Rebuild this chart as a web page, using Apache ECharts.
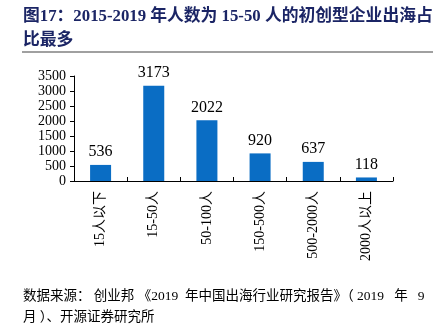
<!DOCTYPE html>
<html><head><meta charset="utf-8">
<script src="https://cdn.jsdelivr.net/npm/echarts@6/dist/echarts.min.js"></script>
<style>html,body{margin:0;padding:0;background:#fff}#c{width:442px;height:328px}</style>
</head><body><div id="c"></div>
<script>
const categories = ['15人以下','15-50人','50-100人','150-500人','500-2000人','2000人以上'];
const values = [536, 3173, 2022, 920, 637, 118];
const yTicks = [0, 500, 1000, 1500, 2000, 2500, 3000, 3500];
const titleLines = ['图17：2015-2019 年人数为 15-50 人的初创型企业出海占', '比最多'];
const sourceLines = ['数据来源： 创业邦 《2019  年中国出海行业研究报告》（ 2019   年   9', '月 ）、开源证券研究所'];

const serif = '"Liberation Serif","Noto Sans CJK SC",serif';
const chart = echarts.init(document.getElementById('c'), null, {renderer: 'canvas'});
chart.setOption({
  animation: false,
  backgroundColor: '#fff',
  grid: {left: 74, top: 76, width: 319, height: 105, containLabel: false},
  xAxis: {
    type: 'category', data: categories,
    axisLine: {lineStyle: {color: '#000', width: 1}},
    axisTick: {show: true, inside: true, length: 4, alignWithLabel: false, lineStyle: {color: '#000'}},
    axisLabel: {rotate: 90, interval: 0, margin: 10, color: '#000', fontSize: 14, fontFamily: serif}
  },
  yAxis: {
    type: 'value', min: yTicks[0], max: yTicks[yTicks.length - 1], interval: 500,
    splitLine: {show: false},
    axisLine: {show: true, lineStyle: {color: '#000', width: 1}},
    axisTick: {show: true, length: 4, lineStyle: {color: '#000'}},
    axisLabel: {color: '#000', fontSize: 14, fontFamily: serif, margin: 8, formatter: v => String(v)}
  },
  series: [{
    type: 'bar', data: values, barWidth: 21,
    itemStyle: {color: '#0A6DC4'},
    label: {show: true, position: 'top', distance: 5, color: '#000', fontSize: 16, fontFamily: serif}
  }],
  graphic: [
    {type: 'text', left: 23, top: 8, style: {text: titleLines[0], font: 'bold 16.8px "Liberation Serif","Noto Sans CJK SC",serif', fill: '#1B2565'}},
    {type: 'text', left: 23, top: 32, style: {text: titleLines[1], font: 'bold 16.8px "Liberation Serif","Noto Sans CJK SC",serif', fill: '#1B2565'}},
    {type: 'line', shape: {x1: 22, y1: 52, x2: 433, y2: 52}, style: {stroke: '#808080', lineWidth: 1.5}},
    {type: 'text', left: 23, top: 290, style: {text: sourceLines[0], font: '13.5px "Liberation Serif","Noto Sans CJK SC",serif', fill: '#000'}},
    {type: 'text', left: 23, top: 311, style: {text: sourceLines[1], font: '13.5px "Liberation Serif","Noto Sans CJK SC",serif', fill: '#000'}}
  ]
});
</script></body></html>
